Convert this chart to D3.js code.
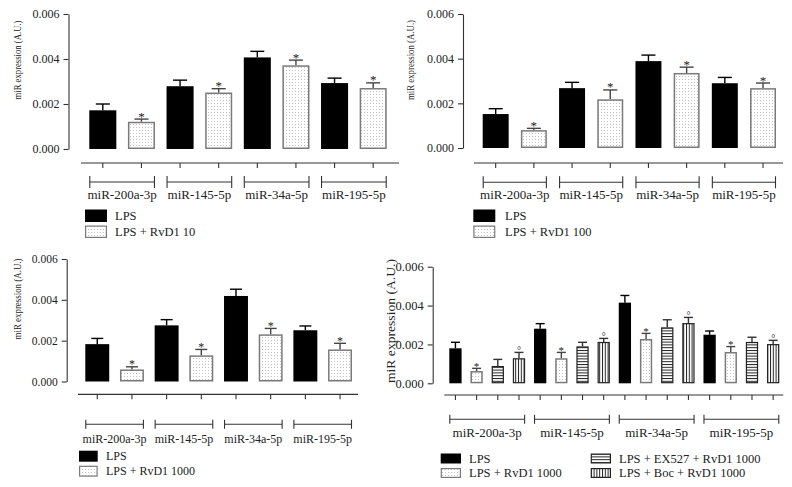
<!DOCTYPE html>
<html><head><meta charset="utf-8">
<script src="https://cdn.jsdelivr.net/npm/d3@7"></script>
<style>
body{margin:0;background:#fff;}
svg{display:block;font-family:"Liberation Serif","Times New Roman",serif;}
</style></head><body>
<svg id="chart" width="792" height="487"></svg>
<script>
// ---------- data ----------
const categories = ["miR-200a-3p", "miR-145-5p", "miR-34a-5p", "miR-195-5p"];
const yTickValues = [0, 0.002, 0.004, 0.006];
const yTickLabels = ["0.000", "0.002", "0.004", "0.006"];
const yTitle = "miR expression (A.U.)";

// Panel A (top-left)
const aNames = ["LPS", "LPS + RvD1 10"];
const aLPS = [0.00172, 0.00279, 0.00407, 0.00293];
const aLPSsem = [0.00028, 0.00027, 0.00027, 0.00022];
const aRvD1 = [0.00121, 0.00251, 0.00372, 0.00271];
const aRvD1sem = [0.00012, 0.00017, 0.00023, 0.00023];

// Panel B (top-right)
const bNames = ["LPS", "LPS + RvD1 100"];
const bLPS = [0.00152, 0.00268, 0.00389, 0.00290];
const bLPSsem = [0.00024, 0.00026, 0.00027, 0.00026];
const bRvD1 = [0.00080, 0.00218, 0.00336, 0.00268];
const bRvD1sem = [0.00008, 0.00042, 0.00026, 0.00023];

// Panel C (bottom-left)
const cNames = ["LPS", "LPS + RvD1 1000"];
const cLPS = [0.00183, 0.00275, 0.00419, 0.00251];
const cLPSsem = [0.00028, 0.00028, 0.00033, 0.00021];
const cRvD1 = [0.00059, 0.00128, 0.00231, 0.00157];
const cRvD1sem = [0.00013, 0.00029, 0.00029, 0.00030];

// Panel D (bottom-right)
const dNames = ["LPS", "LPS + RvD1 1000", "LPS + EX527 + RvD1 1000", "LPS + Boc + RvD1 1000"];
const dLPS = [0.00180, 0.00281, 0.00415, 0.00250];
const dLPSsem = [0.00031, 0.00026, 0.00037, 0.00019];
const dRvD1 = [0.00063, 0.00129, 0.00228, 0.00161];
const dRvD1sem = [0.00014, 0.00030, 0.00029, 0.00028];
const dEX527 = [0.00089, 0.00190, 0.00288, 0.00213];
const dEX527sem = [0.00034, 0.00021, 0.00039, 0.00024];
const dBoc = [0.00129, 0.00213, 0.00310, 0.00202];
const dBocsem = [0.00030, 0.00018, 0.00029, 0.00019];

const markStar = "*";
const markDeg = "°";

// ---------- layout ----------
const FONT = "Liberation Serif, Times New Roman, serif";
const svg = d3.select("#chart");
const defs = svg.append("defs");
const dots = defs.append("pattern").attr("id", "dots").attr("patternUnits", "userSpaceOnUse").attr("width", 3).attr("height", 3);
dots.append("rect").attr("width", 3).attr("height", 3).attr("fill", "#fff");
dots.append("rect").attr("x", 1).attr("y", 1).attr("width", 1).attr("height", 1).attr("fill", "#c4c4c4");
const hs = defs.append("pattern").attr("id", "hstripe").attr("patternUnits", "userSpaceOnUse").attr("width", 4).attr("height", 2.8);
hs.append("rect").attr("width", 4).attr("height", 2.8).attr("fill", "#fff");
hs.append("rect").attr("y", 0).attr("width", 4).attr("height", 1).attr("fill", "#222");
const vs = defs.append("pattern").attr("id", "vstripe").attr("patternUnits", "userSpaceOnUse").attr("width", 2.8).attr("height", 4);
vs.append("rect").attr("width", 2.8).attr("height", 4).attr("fill", "#fff");
vs.append("rect").attr("x", 0).attr("width", 1).attr("height", 4).attr("fill", "#222");

const styles = {
  solid: {fill: "#000", stroke: "#000", sw: 1, err: "#000"},
  dots: {fill: "url(#dots)", stroke: "#7a7a7a", sw: 1.5, err: "#444"},
  hstripe: {fill: "url(#hstripe)", stroke: "#222", sw: 1.2, err: "#333"},
  vstripe: {fill: "url(#vstripe)", stroke: "#222", sw: 1.2, err: "#333"}
};

const panels = [
  {series: [
     {name: aNames[0], v: aLPS, e: aLPSsem, st: "solid", mark: null},
     {name: aNames[1], v: aRvD1, e: aRvD1sem, st: "dots", mark: markStar}],
   y0: 149, y1: 14, axisX: 68.5, barL: 89.3, barR: 386.7, pad: 0.30,
   xLineY: 163, xLine: [81, 399], bracketY: 182, cap: 6, labelY: 199, catFont: 13, tickFont: 12,
   title: {x: 17, y: 60, size: 10.5, len: 79},
   legend: {x: 85, y: 209.5, w: 22, h: 12.5, dy: 16, tx: 115, font: 12.5, colDx: 0},
   capW: 7, markFont: 13},
  {series: [
     {name: bNames[0], v: bLPS, e: bLPSsem, st: "solid", mark: null},
     {name: bNames[1], v: bRvD1, e: bRvD1sem, st: "dots", mark: markStar}],
   y0: 148, y1: 14, axisX: 463, barL: 482.7, barR: 776, pad: 0.32,
   xLineY: 163, xLine: [474, 783], bracketY: 182.3, cap: 6, labelY: 199, catFont: 13, tickFont: 12,
   title: {x: 410, y: 60, size: 10.5, len: 80},
   legend: {x: 473.3, y: 209.5, w: 22, h: 12.5, dy: 16, tx: 505, font: 12.5, colDx: 0},
   capW: 7, markFont: 13},
  {series: [
     {name: cNames[0], v: cLPS, e: cLPSsem, st: "solid", mark: null},
     {name: cNames[1], v: cRvD1, e: cRvD1sem, st: "dots", mark: markStar}],
   y0: 381.5, y1: 259, axisX: 66.7, barL: 85.3, barR: 352, pad: 0.31,
   xLineY: 394.3, xLine: [78, 358], bracketY: 424.3, cap: 4.5, labelY: 443, catFont: 12, tickFont: 11.5,
   title: {x: 17, y: 299, size: 10.5, len: 81},
   legend: {x: 79, y: 450.7, w: 18.7, h: 11, dy: 15, tx: 106, font: 12, colDx: 0},
   capW: 6, markFont: 12},
  {series: [
     {name: dNames[0], v: dLPS, e: dLPSsem, st: "solid", mark: null},
     {name: dNames[1], v: dRvD1, e: dRvD1sem, st: "dots", mark: markStar},
     {name: dNames[2], v: dEX527, e: dEX527sem, st: "hstripe", mark: null},
     {name: dNames[3], v: dBoc, e: dBocsem, st: "vstripe", mark: markDeg}],
   y0: 383.3, y1: 266.7, axisX: 432.7, barL: 449.3, barR: 779.3, pad: 0.42,
   xLineY: 395, xLine: [444.3, 783.3], bracketY: 419.3, cap: 4.5, labelY: 436.7, catFont: 13, tickFont: 12.5,
   title: {x: 390, y: 321, size: 13, len: 124},
   legend: {x: 440.7, y: 453.5, w: 20.3, h: 10, dy: 14.5, tx: 469, font: 12.5, colDx: 150},
   capW: 4.5, markFont: 11}
];

panels.forEach(p => {
  const g = svg.append("g").attr("font-family", FONT);
  const nS = p.series.length;
  const keys = [];
  categories.forEach((c, ci) => p.series.forEach((s, si) => keys.push(ci + "_" + si)));
  const x = d3.scaleBand().domain(keys).range([p.barL, p.barR]).paddingInner(p.pad).paddingOuter(0);
  const y = d3.scaleLinear().domain([0, 0.006]).range([p.y0, p.y1]);

  // y axis
  const ax = g.append("g").attr("transform", `translate(${p.axisX},0)`)
    .call(d3.axisLeft(y).tickValues(yTickValues).tickFormat((d, i) => yTickLabels[i]).tickSize(5).tickSizeOuter(0).tickPadding(4));
  ax.attr("font-family", FONT);
  ax.select(".domain").attr("stroke", "#333").attr("stroke-width", 1.1);
  ax.selectAll(".tick line").attr("stroke", "#333").attr("stroke-width", 1.1);
  ax.selectAll(".tick text").attr("font-family", FONT).attr("font-size", p.tickFont).attr("fill", "#222");

  // y title
  g.append("text").attr("transform", `translate(${p.title.x},${p.title.y}) rotate(-90)`)
    .attr("text-anchor", "middle").attr("dy", "0.35em").attr("font-size", p.title.size)
    .attr("textLength", p.title.len).attr("lengthAdjust", "spacingAndGlyphs")
    .attr("fill", "#222").text(yTitle);

  // bars
  const bars = [];
  categories.forEach((c, ci) => p.series.forEach((s, si) => bars.push({key: ci + "_" + si, v: s.v[ci], e: s.e[ci], st: s.st, mark: s.mark})));
  const bw = x.bandwidth();
  bars.forEach(b => {
    const st = styles[b.st];
    const cx = x(b.key) + bw / 2;
    g.append("line").attr("x1", cx).attr("x2", cx).attr("y1", y(b.v)).attr("y2", y(b.v + b.e))
      .attr("stroke", st.err).attr("stroke-width", 1.4);
    g.append("line").attr("x1", cx - p.capW).attr("x2", cx + p.capW).attr("y1", y(b.v + b.e)).attr("y2", y(b.v + b.e))
      .attr("stroke", st.err).attr("stroke-width", 1.4);
    const inset = b.st === "solid" ? 0 : st.sw / 2;
    g.append("rect").attr("x", x(b.key) + inset).attr("y", y(b.v) + inset)
      .attr("width", bw - 2 * inset).attr("height", y(0) - y(b.v) - 2 * inset)
      .attr("fill", st.fill).attr("stroke", b.st === "solid" ? "none" : st.stroke).attr("stroke-width", st.sw);
    if (b.mark) {
      const isDeg = b.mark === markDeg;
      g.append("text").attr("x", cx).attr("y", y(b.v + b.e) + 1.5)
        .attr("text-anchor", "middle").attr("font-size", isDeg ? p.markFont - 1 : p.markFont)
        .attr("fill", "#222").text(b.mark);
    }
  });

  // x axis line with ticks
  g.append("line").attr("x1", p.xLine[0]).attr("x2", p.xLine[1]).attr("y1", p.xLineY).attr("y2", p.xLineY)
    .attr("stroke", "#333").attr("stroke-width", 1.2);
  const xa = g.append("g").attr("transform", `translate(0,${p.xLineY})`)
    .call(d3.axisBottom(x).tickFormat("").tickSize(5).tickSizeOuter(0));
  xa.select(".domain").remove();
  xa.selectAll(".tick line").attr("stroke", "#333").attr("stroke-width", 1.1);

  // group brackets + labels
  categories.forEach((c, ci) => {
    const x0 = x(ci + "_0") + 0.5;
    const x1 = x(ci + "_" + (nS - 1)) + bw - 0.5;
    g.append("line").attr("x1", x0).attr("x2", x1).attr("y1", p.bracketY).attr("y2", p.bracketY).attr("stroke", "#333").attr("stroke-width", 1.1);
    [x0, x1].forEach(xx => g.append("line").attr("x1", xx).attr("x2", xx).attr("y1", p.bracketY - p.cap).attr("y2", p.bracketY + p.cap).attr("stroke", "#333").attr("stroke-width", 1.1));
    g.append("text").attr("x", (x0 + x1) / 2).attr("y", p.labelY).attr("text-anchor", "middle")
      .attr("font-size", p.catFont).attr("fill", "#222").text(c);
  });

  // legend
  p.series.forEach((s, si) => {
    const col = Math.floor(si / 2), row = si % 2;
    const lx = p.legend.x + col * p.legend.colDx;
    const ly = p.legend.y + row * p.legend.dy;
    const st = styles[s.st];
    const inset = s.st === "solid" ? 0 : 0.6;
    g.append("rect").attr("x", lx + inset).attr("y", ly + inset).attr("width", p.legend.w - 2 * inset).attr("height", p.legend.h - 2 * inset)
      .attr("fill", st.fill).attr("stroke", s.st === "solid" ? "none" : st.stroke).attr("stroke-width", 1.2);
    g.append("text").attr("x", p.legend.tx + col * p.legend.colDx).attr("y", ly + p.legend.h / 2).attr("dy", "0.35em")
      .attr("font-size", p.legend.font).attr("fill", "#222").text(s.name);
  });
});
</script>
</body></html>
